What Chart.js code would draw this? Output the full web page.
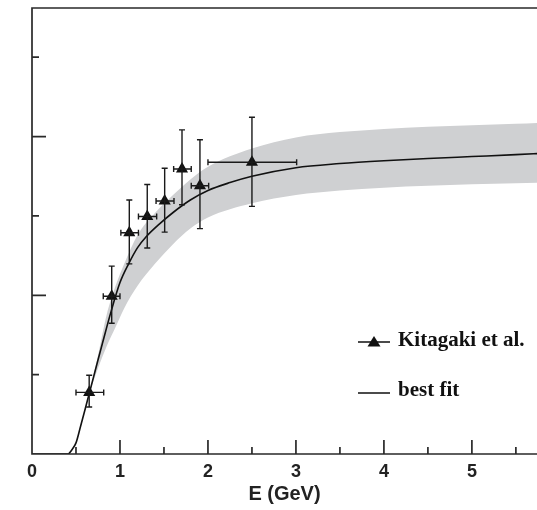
<!DOCTYPE html>
<html>
<head>
<meta charset="utf-8">
<script src="https://cdn.jsdelivr.net/npm/chart.js@4.4.0/dist/chart.umd.min.js"></script>
<style>
  html, body { margin: 0; padding: 0; background: #fff; }
  #wrap { width: 537px; height: 510px; }
</style>
</head>
<body>
<div id="wrap"><canvas id="xsecChart" width="537" height="510"></canvas></div>
<script>
// Kitagaki et al. measurements
const energy = [0.65, 0.906, 1.106, 1.31, 1.508, 1.705, 1.909, 2.5];
const energyLo = [0.50, 0.81, 1.01, 1.21, 1.41, 1.61, 1.81, 2.00];
const energyHi = [0.815, 1.00, 1.21, 1.417, 1.614, 1.81, 2.008, 3.008];
const sigma = [0.194, 0.497, 0.697, 0.748, 0.797, 0.898, 0.845, 0.919];
const sigmaLo = [0.148, 0.412, 0.599, 0.649, 0.699, 0.785, 0.71, 0.78];
const sigmaHi = [0.248, 0.592, 0.80, 0.849, 0.90, 1.021, 0.99, 1.061];

// best fit curve
const fitE = [0, 0.41, 0.45, 0.50, 0.55, 0.60, 0.65, 0.70, 0.75, 0.80, 0.90, 1.00, 1.10, 1.20, 1.30, 1.45, 1.60, 1.80, 2.00, 2.25, 2.50, 3.00, 3.50, 4.00, 4.50, 5.00, 5.50, 5.80];
const fitY = [0, 0, 0.012, 0.035, 0.085, 0.137, 0.19, 0.243, 0.296, 0.348, 0.45, 0.54, 0.60, 0.65, 0.685, 0.725, 0.76, 0.80, 0.83, 0.855, 0.875, 0.902, 0.915, 0.924, 0.931, 0.937, 0.943, 0.947];

// uncertainty band
const bandE = [0.65, 0.75, 0.85, 0.95, 1.05, 1.20, 1.40, 1.60, 1.80, 2.00, 2.50, 3.00, 3.50, 4.00, 4.50, 5.00, 5.50, 5.80];
const bandLow = [0.19, 0.27, 0.34, 0.40, 0.46, 0.53, 0.60, 0.66, 0.71, 0.745, 0.79, 0.816, 0.83, 0.839, 0.845, 0.85, 0.853, 0.855];
const bandHigh = [0.19, 0.31, 0.44, 0.53, 0.60, 0.69, 0.76, 0.815, 0.865, 0.905, 0.962, 0.997, 1.014, 1.024, 1.031, 1.036, 1.040, 1.043];

const xTickMajor = [0, 1, 2, 3, 4, 5];
const xTickMinor = [0.5, 1.5, 2.5, 3.5, 4.5, 5.5];
const yTickMajor = [0.5, 1.0];
const yTickMinor = [0.25, 0.75, 1.25];

const toXY = (xs, ys) => xs.map((v, i) => ({ x: v, y: ys[i] }));

/**
 * Axes frame, inward tick marks, error bars and legend
 */
const framePlugin = {
  id: 'framePlugin',
  afterDatasetsDraw (chart) {
    const { ctx, chartArea: a, scales: { x, y } } = chart;
    ctx.save();
    ctx.strokeStyle = '#1a1a1a';
    ctx.lineWidth = 1.4;
    for (let i = 0; i < energy.length; i++) {
      const px = x.getPixelForValue(energy[i]);
      const py = y.getPixelForValue(sigma[i]);
      const x0 = x.getPixelForValue(energyLo[i]);
      const x1 = x.getPixelForValue(energyHi[i]);
      const y0 = y.getPixelForValue(sigmaLo[i]);
      const y1 = y.getPixelForValue(sigmaHi[i]);
      ctx.beginPath();
      ctx.moveTo(x0, py); ctx.lineTo(x1, py);
      ctx.moveTo(x0, py - 3); ctx.lineTo(x0, py + 3);
      ctx.moveTo(x1, py - 3); ctx.lineTo(x1, py + 3);
      ctx.moveTo(px, y0); ctx.lineTo(px, y1);
      ctx.moveTo(px - 3, y0); ctx.lineTo(px + 3, y0);
      ctx.moveTo(px - 3, y1); ctx.lineTo(px + 3, y1);
      ctx.stroke();
    }

    ctx.strokeStyle = '#2a2a2a';
    ctx.lineWidth = 1.7;
    ctx.beginPath();
    ctx.moveTo(chart.width, a.top);
    ctx.lineTo(a.left, a.top);
    ctx.lineTo(a.left, a.bottom);
    ctx.lineTo(chart.width, a.bottom);
    xTickMajor.forEach(v => { const p = x.getPixelForValue(v); ctx.moveTo(p, a.bottom); ctx.lineTo(p, a.bottom - 14); });
    xTickMinor.forEach(v => { const p = x.getPixelForValue(v); ctx.moveTo(p, a.bottom); ctx.lineTo(p, a.bottom - 7); });
    yTickMajor.forEach(v => { const p = y.getPixelForValue(v); ctx.moveTo(a.left, p); ctx.lineTo(a.left + 14, p); });
    yTickMinor.forEach(v => { const p = y.getPixelForValue(v); ctx.moveTo(a.left, p); ctx.lineTo(a.left + 7, p); });
    ctx.stroke();

    // legend
    ctx.strokeStyle = '#111';
    ctx.lineWidth = 1.4;
    ctx.beginPath();
    ctx.moveTo(358, 342); ctx.lineTo(390, 342);
    ctx.moveTo(358, 393); ctx.lineTo(390, 393);
    ctx.stroke();
    ctx.fillStyle = '#111';
    ctx.beginPath();
    ctx.moveTo(374, 336); ctx.lineTo(380.5, 346.5); ctx.lineTo(367.5, 346.5);
    ctx.closePath();
    ctx.fill();
    ctx.font = 'bold 21px "Liberation Serif", "Times New Roman", serif';
    ctx.textBaseline = 'middle';
    ctx.fillText('Kitagaki et al.', 398, 341);
    ctx.fillText('best fit', 398, 391);
    ctx.restore();
  }
};

const data = {
  datasets: [{
    label: 'Kitagaki et al.',
    data: toXY(energy, sigma),
    showLine: false,
    pointStyle: 'triangle',
    pointRadius: 7,
    backgroundColor: '#111',
    borderColor: '#111',
    borderWidth: 0
  },
  {
    label: 'best fit',
    data: toXY(fitE, fitY),
    showLine: true,
    borderColor: '#111',
    borderWidth: 1.6,
    pointRadius: 0,
    cubicInterpolationMode: 'monotone',
    fill: false
  },
  {
    label: 'band low',
    data: toXY(bandE, bandLow),
    showLine: true,
    borderWidth: 0,
    borderColor: 'rgba(0,0,0,0)',
    pointRadius: 0,
    cubicInterpolationMode: 'monotone',
    fill: false
  },
  {
    label: 'band high',
    data: toXY(bandE, bandHigh),
    showLine: true,
    borderWidth: 0,
    borderColor: 'rgba(0,0,0,0)',
    backgroundColor: '#cfd0d2',
    pointRadius: 0,
    cubicInterpolationMode: 'monotone',
    fill: 2
  }]
};

const config = {
  type: 'scatter',
  data: data,
  options: {
    responsive: false,
    animation: false,
    layout: { autoPadding: false, padding: { left: 32, top: 8, right: 0, bottom: 6 } },
    plugins: {
      legend: { display: false },
      tooltip: { enabled: false }
    },
    scales: {
      x: {
        type: 'linear',
        min: 0,
        max: 5.74,
        grid: { display: false, drawTicks: false },
        border: { display: false },
        ticks: {
          stepSize: 1,
          includeBounds: false,
          padding: 9,
          color: '#222',
          font: { family: '"Liberation Sans", Arial, sans-serif', size: 18, weight: 'bold', lineHeight: 1 }
        },
        title: {
          display: true,
          text: 'E (GeV)',
          color: '#222',
          padding: { top: -6, bottom: 0 },
          font: { family: '"Liberation Sans", Arial, sans-serif', size: 20, weight: 'bold', lineHeight: 1 }
        }
      },
      y: {
        display: false,
        min: 0,
        max: 1.405
      }
    }
  },
  plugins: [framePlugin]
};

const myChart = new Chart(document.getElementById('xsecChart'), config);
</script>
</body>
</html>
